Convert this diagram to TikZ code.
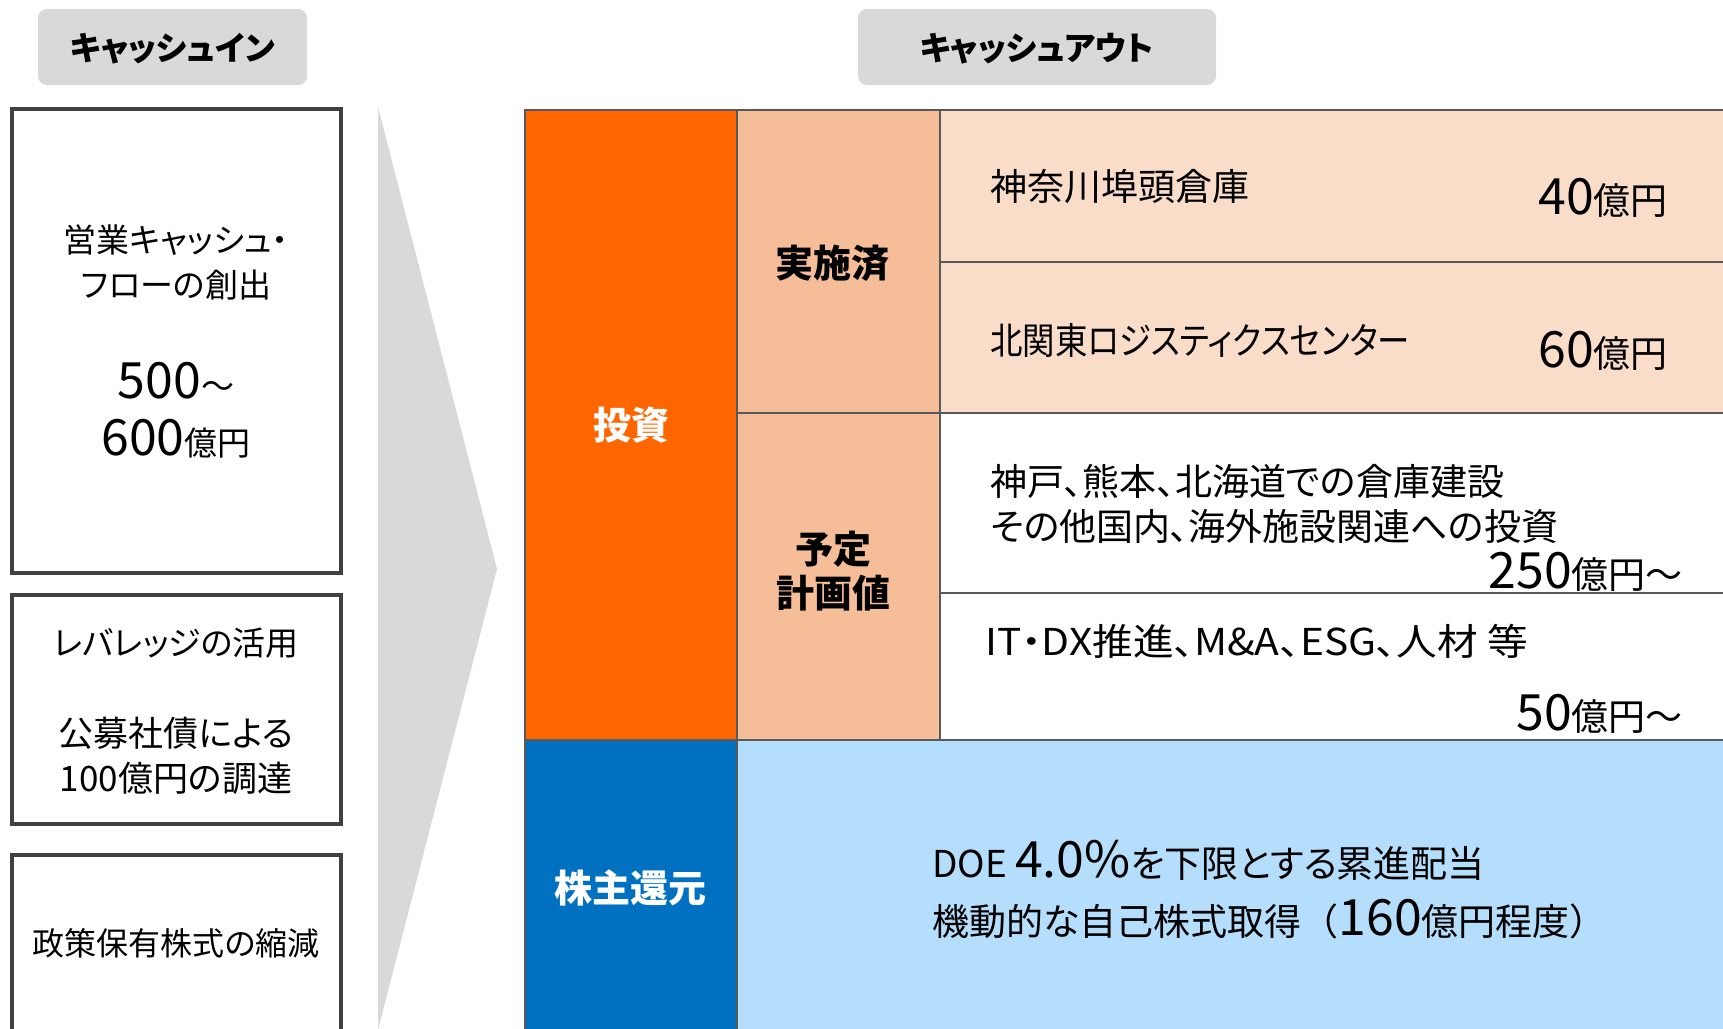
\documentclass[tikz,border=0pt]{standalone}
\usepackage{fontspec}
\setmainfont{Noto Sans CJK JP}[RawFeature=+palt]
\definecolor{hdrgray}{HTML}{D9D9D9}
\definecolor{boxline}{HTML}{404040}
\definecolor{gridline}{HTML}{595959}
\definecolor{orng}{HTML}{FF6600}
\definecolor{peachmid}{HTML}{F5BD98}
\definecolor{peachlt}{HTML}{FADDC9}
\definecolor{bluedk}{HTML}{0070C0}
\definecolor{bluelt}{HTML}{B4DEFC}
\newcommand\bignum[1]{{\fontsize{50}{56}\selectfont #1}}
\newcommand\fullw[1]{{\addfontfeature{RawFeature=-palt}#1}}
\tikzset{
  hdr/.style={fill=hdrgray, rounded corners=9pt},
  inbox/.style={draw=boxline, line width=3.5pt, fill=white},
  gridln/.style={draw=gridline, line width=2.5pt},
  txt/.style={inner sep=0pt, font=\fontsize{37}{45}\selectfont, text=black},
  ltxt/.style={inner sep=0pt, font=\fontsize{33}{45}\selectfont, text=black, align=center},
  hdrtxt/.style={inner sep=0pt, font=\fontsize{33}{45}\selectfont\bfseries},
  cattxt/.style={inner sep=0pt, font=\fontsize{38}{44}\selectfont\bfseries, align=center},
}
\begin{document}
\begin{tikzpicture}[x=1pt,y=-1pt]
\useasboundingbox (0,0) rectangle (1723,1028);
\clip (0,0) rectangle (1723,1028);
\fill[white] (0,0) rectangle (1723,1028);

% headers
\fill[hdr] (38,9) rectangle (307,85);
\node[hdrtxt] (hin) at (172.5,49) {キャッシュイン};
\fill[hdr] (858,9) rectangle (1216,85);
\node[hdrtxt] (hout) at (1037,49) {キャッシュアウト};

% cash-in boxes
\draw[inbox] (12,109) rectangle (341,573);
\draw[inbox] (12,595) rectangle (341,824);
\draw[inbox] (12,855) rectangle (341,1045);
\node[ltxt] (in1) at (176,262) {営業キャッシュ・\\フローの創出};
\node[ltxt, anchor=base] (in1a) at (176,398) {\bignum{500}～};
\node[ltxt, anchor=base] (in1b) at (176,455) {\bignum{600}億円};
\node[ltxt] (in2a) at (176,643) {レバレッジの活用};
\node[ltxt, font=\fontsize{35}{45}\selectfont] (in2b) at (176,755.5) {公募社債による\\100億円の調達};
\node[ltxt, font=\fontsize{32}{40}\selectfont] (in3) at (176,943) {政策保有株式の縮減};

% big chevron
\fill[hdrgray] (378,107) -- (497,569) -- (378,1030) -- cycle;

% table fills
\fill[orng] (525,110) rectangle (737,740);
\fill[peachmid] (737,110) rectangle (940,740);
\fill[peachlt] (940,110) rectangle (1730,413);
\fill[white] (940,413) rectangle (1730,740);
\fill[bluedk] (525,740) rectangle (737,1035);
\fill[bluelt] (737,740) rectangle (1730,1035);

% grid lines
\draw[gridln] (525,1035) -- (525,110) -- (1730,110);
\draw[gridln] (737,110) -- (737,1035);
\draw[gridln] (940,110) -- (940,740);
\draw[gridln] (940,262) -- (1730,262);
\draw[gridln] (737,413) -- (1730,413);
\draw[gridln] (940,593) -- (1730,593);
\draw[gridln] (525,740) -- (1730,740);

% category labels
\node[cattxt, text=white] (inv) at (631,425) {投資};
\node[cattxt] (done) at (832,263) {実施済};
\node[cattxt] (plan) at (833,571) {予定\\計画値};
\node[cattxt, text=white] (ret) at (630,888) {株主還元};

% details
\node[txt, anchor=west] (d1) at (990,187) {神奈川埠頭倉庫};
\node[txt, anchor=base east] (v1) at (1668,214) {\bignum{40}億円};
\node[txt, anchor=west] (d2) at (990,340) {\scalebox{0.877}[1]{北関東ロジスティクスセンター}};
\node[txt, anchor=base east] (v2) at (1668,367) {\bignum{60}億円};
\node[txt, anchor=west, align=left] (d3) at (990,503.5) {神戸、熊本、北海道での倉庫建設\\その他国内、海外施設関連への投資};
\node[txt, anchor=base east] (v3) at (1683,588) {\bignum{250}億円～};
\node[txt, anchor=west] (d4) at (985,641) {\scalebox{1.1}[1]{IT・DX推進、M\&A、ESG、人材 等}};
\node[txt, anchor=base east] (v4) at (1683,730) {\bignum{50}億円～};
\node[txt, anchor=base west] (s1) at (932,877) {DOE \bignum{4.0\%}を下限とする累進配当};
\node[txt, anchor=base west] (s2) at (932,935) {機動的な自己株式取得\fullw{（}\bignum{160}億円程度\fullw{）}};
\end{tikzpicture}
\end{document}
